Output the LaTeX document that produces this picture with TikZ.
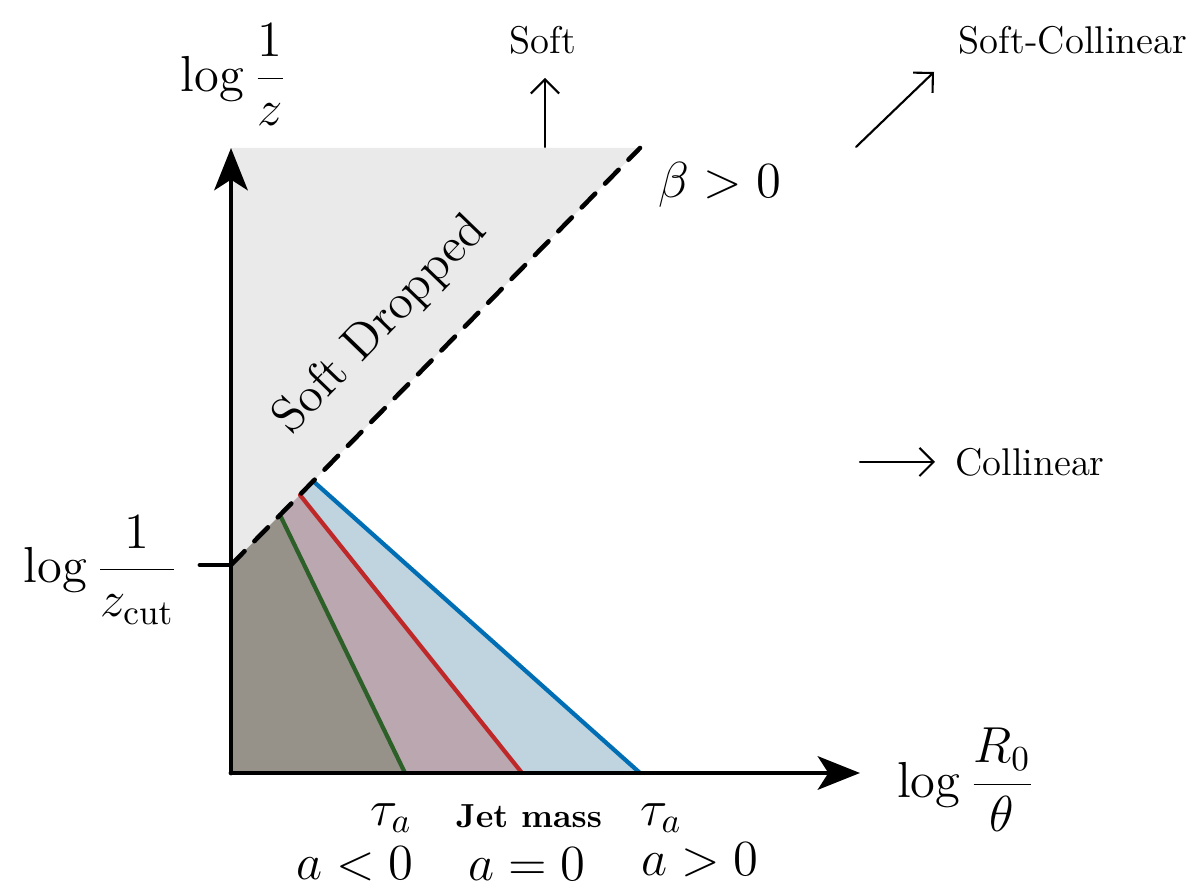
\documentclass[tikz,border=0pt]{standalone}
\usepackage{tkz-euclide}
\usetikzlibrary{arrows.meta,calc}
\definecolor{DropClr}{RGB}{234,234,234}
\definecolor{NegClr}{RGB}{150,146,138}
\definecolor{MassClr}{RGB}{187,167,176}
\definecolor{PosClr}{RGB}{192,212,224}
\definecolor{NegLine}{RGB}{45,95,40}
\definecolor{MassLine}{RGB}{190,40,40}
\definecolor{PosLine}{RGB}{0,110,180}

\begin{document}
\begin{tikzpicture}[
  lab/.style={font=\fontsize{14}{17}\selectfont},
  note/.style={font=\fontsize{11}{13}\selectfont},
  axis/.style={line width=1.4pt,-{Stealth[length=12pt,width=9.5pt,inset=3pt]}},
  guide/.style={line width=0.6pt,-{Straight Barb[length=4pt,width=8pt]}}]
\useasboundingbox (-2.31,-1.14) rectangle (9.67,7.73);

\tkzDefPoints{0/0/O,0/6.25/Y,6.29/0/X,0/2.08/Z,-0.31/2.08/Zt,4.09/6.25/T}
\tkzDefPoints{0.49/2.58/Ga,1.74/0/Gb,0.69/2.78/Ra,2.91/0/Rb,0.82/2.92/Ba,4.09/0/Bb}
\tkzDefPoints{3.14/6.26/S0,3.14/6.95/S1,6.25/6.26/C0,7.03/7.01/C1,6.29/3.11/K0,7.04/3.11/K1}

% regions
\tkzFillPolygon[fill=DropClr](Z,Y,T)
\tkzFillPolygon[fill=NegClr](O,Z,Ga,Gb)
\tkzFillPolygon[fill=MassClr](Ga,Ra,Rb,Gb)
\tkzFillPolygon[fill=PosClr](Ra,Ba,Bb,Rb)

\tkzDrawSegment[color=NegLine,line width=1.2pt](Ga,Gb)
\tkzDrawSegment[color=MassLine,line width=1.2pt](Ra,Rb)
\tkzDrawSegment[color=PosLine,line width=1.2pt](Ba,Bb)

\tkzDrawSegment[color=black,line width=1.3pt,dash pattern=on 5.5pt off 4pt](Z,T)

% axes
\tkzDrawSegment[color=black,axis](O,Y)
\tkzDrawSegment[color=black,axis](O,X)
\tkzDrawSegment[color=black,line width=1.4pt](Zt,Z)

% limits
\tkzDrawSegment[color=black,guide](S0,S1)
\tkzDrawSegment[color=black,guide](C0,C1)
\tkzDrawSegment[color=black,guide](K0,K1)

\node[lab] (ylab) at (0.03,6.98) {$\log\displaystyle\frac{1}{z}$};
\node[lab] (zcut) at (-1.30,2.03) {$\log\displaystyle\frac{1}{z_{\mathrm{cut}}}$};
\node[lab] (xlab) at (7.35,-0.07) {$\log\displaystyle\frac{R_0}{\theta}$};
\node[lab,font=\fontsize{15}{18}\selectfont] (beta) at (4.89,5.88) {$\beta > 0$};
\node[lab,rotate=46] (drop) at (1.50,4.48) {Soft Dropped};

\node[note] (soft) at (3.12,7.33) {Soft};
\node[note] (softcol) at (8.42,7.33) {Soft-Collinear};
\node[note] (col) at (7.99,3.11) {Collinear};

\node[lab] (taun) at (1.60,-0.45) {$\tau_a$};
\node[font=\fontsize{9.5}{11}\selectfont\bfseries] (mass) at (2.98,-0.43) {Jet mass};
\node[lab] (taup) at (4.30,-0.45) {$\tau_a$};
\node[lab] (an) at (1.24,-0.91) {$a<0$};
\node[lab] (az) at (2.96,-0.91) {$a=0$};
\node[lab] (ap) at (4.69,-0.87) {$a>0$};

\end{tikzpicture}
\end{document}
